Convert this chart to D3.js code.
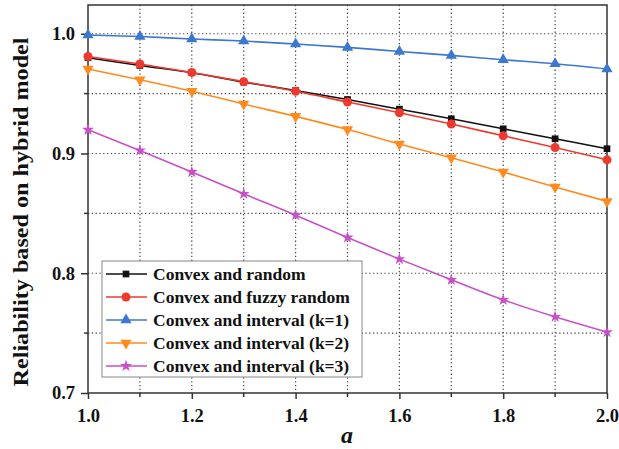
<!DOCTYPE html>
<html><head><meta charset="utf-8">
<script src="https://cdn.jsdelivr.net/npm/d3@7"></script>
<style>body{margin:0;background:#fff}svg{display:block}</style>
</head><body>
<svg id="c" width="619" height="449"></svg>
<script>
const alphas = [1.0,1.1,1.2,1.3,1.4,1.5,1.6,1.7,1.8,1.9,2.0];
const convexRandom = [0.980,0.9735,0.9674,0.9596,0.9526,0.9451,0.937,0.929,0.9206,0.9123,0.904];
const convexFuzzyRandom = [0.981,0.9747,0.9677,0.960,0.952,0.943,0.934,0.9246,0.9148,0.905,0.8947];
const convexIntervalK1 = [0.999,0.9977,0.9956,0.9939,0.9914,0.9886,0.9852,0.9819,0.9783,0.9749,0.9705];
const convexIntervalK2 = [0.9705,0.9616,0.952,0.9413,0.931,0.920,0.908,0.8964,0.8845,0.872,0.860];
const convexIntervalK3 = [0.9198,0.9025,0.8845,0.8663,0.8485,0.8298,0.8118,0.7945,0.7778,0.7636,0.7508];
const seriesNames = ["Convex and random","Convex and fuzzy random","Convex and interval (k=1)","Convex and interval (k=2)","Convex and interval (k=3)"];
const xTicks = [1.0,1.2,1.4,1.6,1.8,2.0];
const yTicks = [0.7,0.8,0.9,1.0];

const series = [
  {name:seriesNames[0], values:convexRandom, color:"#111111", sym:d3.symbolSquare, size:45, rot:0},
  {name:seriesNames[1], values:convexFuzzyRandom, color:"#ee3a2e", sym:d3.symbolCircle, size:64, rot:0},
  {name:seriesNames[2], values:convexIntervalK1, color:"#3d78d0", sym:d3.symbolTriangle, size:55, rot:0},
  {name:seriesNames[3], values:convexIntervalK2, color:"#ff8a1e", sym:d3.symbolTriangle, size:55, rot:180},
  {name:seriesNames[4], values:convexIntervalK3, color:"#c94fc9", sym:d3.symbolStar, size:45, rot:0}
];

const svg = d3.select("#c");
const L=88, R=607, T=5, B=393;
const x = d3.scaleLinear().domain([1.0,2.0]).range([L,R]);
const y = d3.scaleLinear().domain([0.7,1.024]).range([B,T]);
const font = "'Liberation Serif','Times New Roman',serif";

// grid
const gx = d3.range(1.1,2.0,0.1).map(v=>+v.toFixed(1));
const gy = [0.75,0.8,0.85,0.9,0.95,1.0];
svg.append("g").selectAll("line").data(gx).join("line")
  .attr("x1",d=>x(d)).attr("x2",d=>x(d)).attr("y1",T).attr("y2",B)
  .attr("stroke","#444").attr("stroke-width",1.2).attr("stroke-dasharray","1.3,2.5");
svg.append("g").selectAll("line").data(gy).join("line")
  .attr("y1",d=>y(d)).attr("y2",d=>y(d)).attr("x1",L).attr("x2",R)
  .attr("stroke","#444").attr("stroke-width",1.2).attr("stroke-dasharray","1.3,2.5");

// frame
svg.append("rect").attr("x",L).attr("y",T).attr("width",R-L).attr("height",B-T)
  .attr("fill","none").attr("stroke","#333").attr("stroke-width",1.5);

// axes
const xAxis = d3.axisBottom(x).tickValues(xTicks).tickFormat(d3.format(".1f")).tickSize(6).tickPadding(10);
const gxa = svg.append("g").attr("transform",`translate(0,${B})`).call(xAxis);
const yAxis = d3.axisLeft(y).tickValues(yTicks).tickFormat(d3.format(".1f")).tickSize(7).tickPadding(6);
const gya = svg.append("g").attr("transform",`translate(${L},0)`).call(yAxis);
[gxa,gya].forEach(g=>{
  g.select(".domain").remove();
  g.selectAll("line").attr("stroke","#333").attr("stroke-width",1.5);
  g.selectAll("text").attr("font-family",font).attr("font-weight","bold").attr("font-size",18.5).attr("fill","#111");
});
// minor ticks
svg.append("g").selectAll("line").data([1.1,1.3,1.5,1.7,1.9]).join("line")
  .attr("x1",d=>x(d)).attr("x2",d=>x(d)).attr("y1",B).attr("y2",B+4).attr("stroke","#333").attr("stroke-width",1.5);
svg.append("g").selectAll("line").data([0.75,0.85,0.95]).join("line")
  .attr("y1",d=>y(d)).attr("y2",d=>y(d)).attr("x1",L).attr("x2",L-4).attr("stroke","#333").attr("stroke-width",1.5);

// lines
const line = d3.line().x((d,i)=>x(alphas[i])).y(d=>y(d)).curve(d3.curveMonotoneX);
series.forEach(s=>{
  svg.append("path").attr("d",line(s.values)).attr("fill","none").attr("stroke",s.color).attr("stroke-width",1.6);
  svg.append("g").selectAll("path").data(s.values).join("path")
    .attr("d",d3.symbol().type(s.sym).size(s.size))
    .attr("transform",(d,i)=>`translate(${x(alphas[i])},${y(d)}) rotate(${s.rot})`)
    .attr("fill",s.color);
});

// legend
const lg = svg.append("g");
lg.append("rect").attr("x",102).attr("y",261).attr("width",260).attr("height",116)
  .attr("fill","#fff").attr("stroke","#888").attr("stroke-width",1);
series.forEach((s,i)=>{
  const yy = 274 + i*23;
  lg.append("line").attr("x1",106).attr("x2",147).attr("y1",yy).attr("y2",yy).attr("stroke",s.color).attr("stroke-width",1.6);
  lg.append("path").attr("d",d3.symbol().type(s.sym).size(s.size)).attr("transform",`translate(126,${yy}) rotate(${s.rot})`).attr("fill",s.color);
  lg.append("text").attr("x",153).attr("y",yy).attr("dy","0.35em").text(s.name)
    .attr("font-family",font).attr("font-weight","bold").attr("font-size",17.5).attr("fill","#111");
});

// axis titles
svg.append("text").attr("transform",`translate(28,212) rotate(-90)`).attr("text-anchor","middle")
  .attr("font-family",font).attr("font-weight","bold").attr("font-size",20).attr("fill","#111")
  .attr("textLength",349).attr("lengthAdjust","spacingAndGlyphs")
  .text("Reliability based on hybrid model");
svg.append("text").attr("x",347).attr("y",443).attr("text-anchor","middle")
  .attr("font-family",font).attr("font-weight","bold").attr("font-style","italic").attr("font-size",24).attr("fill","#111")
  .text("a");
</script>
</body></html>
